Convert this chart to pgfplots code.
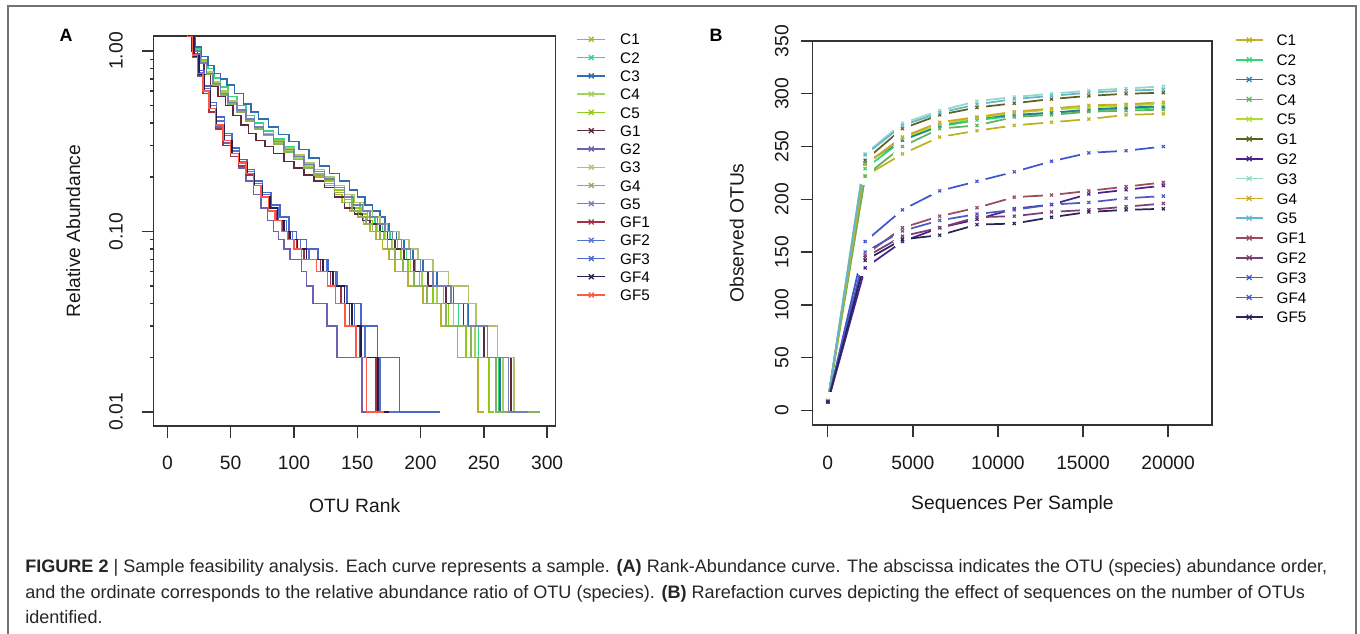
\documentclass[border=0pt]{standalone}
\usepackage{fontspec}
\setmainfont{Liberation Sans}
\usepackage{pgfplots}
\pgfplotsset{compat=1.18}
% panel A colours
\definecolor{aC1}{HTML}{B5B22A}\definecolor{aC2}{HTML}{30D880}\definecolor{aC3}{HTML}{2F6FB0}
\definecolor{aC4}{HTML}{A0D45A}\definecolor{aC5}{HTML}{8ECB14}\definecolor{aG1}{HTML}{5B2B3C}
\definecolor{aG2}{HTML}{6E62B0}\definecolor{aG3}{HTML}{B2C26A}\definecolor{aG4}{HTML}{8DB05C}
\definecolor{aG5}{HTML}{7880B2}\definecolor{aGF1}{HTML}{A0334A}\definecolor{aGF2}{HTML}{5273D0}
\definecolor{aGF3}{HTML}{4A66C8}\definecolor{aGF4}{HTML}{22204E}\definecolor{aGF5}{HTML}{FF5A45}
% panel B colours
\definecolor{bC1}{HTML}{BDB21E}\definecolor{bC2}{HTML}{2ED870}\definecolor{bC3}{HTML}{2479A3}
\definecolor{bC4}{HTML}{62B062}\definecolor{bC5}{HTML}{B0DC2A}\definecolor{bG1}{HTML}{5F5F22}
\definecolor{bG2}{HTML}{4B218C}\definecolor{bG3}{HTML}{94D8C8}\definecolor{bG4}{HTML}{CCA82A}
\definecolor{bG5}{HTML}{62B8C8}\definecolor{bGF1}{HTML}{9A4B5E}\definecolor{bGF2}{HTML}{7A3F72}
\definecolor{bGF3}{HTML}{4056D0}\definecolor{bGF4}{HTML}{4A5ACA}\definecolor{bGF5}{HTML}{2A2458}

% rarefaction data: x = sequences per sample, y = observed OTUs
\pgfplotstableread{
x y
10 9
2200 222
4390 243
6580 259
8770 265
10960 270
13150 273
15340 276
17530 280
19720 281
}\tCi
\pgfplotstableread{
x y
10 9
2200 229
4390 256
6580 269
8770 275
10960 279
13150 282
15340 284
17530 286
19720 287
}\tCii
\pgfplotstableread{
x y
10 9
2200 234
4390 256
6580 270
8770 277
10960 280
13150 282
15340 285
17530 287
19720 288
}\tCiii
\pgfplotstableread{
x y
10 9
2200 222
4390 250
6580 267
8770 270
10960 278
13150 280
15340 283
17530 284
19720 285
}\tCiv
\pgfplotstableread{
x y
10 9
2200 233
4390 258
6580 271
8770 277
10960 282
13150 285
15340 287
17530 289
19720 290
}\tCv
\pgfplotstableread{
x y
10 9
2200 237
4390 267
6580 280
8770 287
10960 291
13150 295
15340 298
17530 300
19720 301
}\tGi
\pgfplotstableread{
x y
10 8
2200 135
4390 160
6580 173
8770 181
10960 191
13150 195
15340 205
17530 209
19720 213
}\tGii
\pgfplotstableread{
x y
10 9
2200 243
4390 272
6580 284
8770 293
10960 297
13150 300
15340 303
17530 305
19720 307
}\tGiii
\pgfplotstableread{
x y
10 9
2200 233
4390 259
6580 273
8770 278
10960 283
13150 286
15340 289
17530 290
19720 292
}\tGiv
\pgfplotstableread{
x y
10 9
2200 242
4390 270
6580 282
8770 290
10960 295
13150 298
15340 301
17530 303
19720 304
}\tGv
\pgfplotstableread{
x y
10 8
2200 147
4390 173
6580 184
8770 192
10960 202
13150 204
15340 208
17530 212
19720 216
}\tFi
\pgfplotstableread{
x y
10 8
2200 145
4390 165
6580 173
8770 183
10960 184
13150 188
15340 190
17530 193
19720 196
}\tFii
\pgfplotstableread{
x y
10 8
2200 160
4390 190
6580 208
8770 217
10960 226
13150 236
15340 244
17530 246
19720 250
}\tFiii
\pgfplotstableread{
x y
10 8
2200 150
4390 170
6580 180
8770 186
10960 190
13150 195
15340 197
17530 201
19720 203
}\tFiv
\pgfplotstableread{
x y
10 8
2200 142
4390 162
6580 166
8770 176
10960 177
13150 183
15340 188
17530 190
19720 191
}\tFv

\pgfplotsset{
  rbase/.style={
    scale only axis, anchor=south west, clip=true,
    axis line style={line width=1.1bp, black!80},
    tick style={line width=1.1bp, black!80},
    tick align=outside, major tick length=9bp, tick pos=left,
    tick label style={font=\fontsize{14.5}{17}\selectfont, black!90},
    label style={font=\fontsize{14.5}{17}\selectfont, black!90},
    /pgf/number format/assume math mode=true,
    xticklabel style={anchor=north, inner sep=0pt},
    yticklabel style={rotate=90, anchor=south, inner sep=0pt},
    legend cell align=left,
  },
  curveA/.style={#1, const plot mark left, line width=1.1bp},
  lineB/.style={#1, sharp plot, mark=none, line width=1.3bp, forget plot},
  discB/.style={white, only marks, mark=*, mark size=6.4bp, mark options={draw=white, fill=white, line width=0pt}, forget plot},
  markB/.style={#1, only marks, mark=x, mark size=1.6bp, mark options={line width=0.9bp}},
}

\begin{document}
\begin{tikzpicture}[x=0.75bp,y=0.75bp]
\useasboundingbox (0,0) rectangle (1360,633);
\draw[black!55, line width=1.3bp] (8,-5) -- (8,627) -- (1356,627) -- (1356,-5);
\node[font=\bfseries\fontsize{13.5}{14}\selectfont] at (66,598) {A};
\node[font=\bfseries\fontsize{13.5}{14}\selectfont] at (716,598) {B};

% ---------------- Panel A ----------------
\begin{axis}[rbase, at={(115.275bp,155.25bp)}, width=301.5bp, height=292.5bp,
  xmin=-10.8, xmax=306.8, ymode=log, ymin=0.008362, ymax=1.211,
  xtick={0,50,100,150,200,250,300},
  ytick={0.01,0.1,1}, yticklabels={0.01,0.10,1.00},
  xticklabel shift=13.5bp, yticklabel shift=14bp,
  xlabel={OTU Rank}, ylabel={Relative Abundance},
  xlabel style={at={(axis description cs:0.5,-0.205)}, anchor=center},
  ylabel style={at={(axis description cs:-0.2,0.5)}, anchor=center},
  legend style={at={(axis description cs:1.052,1.006)}, anchor=north west, draw=none, fill=none,
    inner sep=0pt, outer sep=0pt, font=\fontsize{11.5}{12}\selectfont, row sep=5.2bp, column sep=10.7bp,
    nodes={inner sep=0pt, text height=8.5bp, text depth=0pt}},
  legend image code/.code={\draw[mark repeat=2, mark phase=2, #1, sharp plot, mark=x, mark size=2.6bp, line width=1bp] plot coordinates {(0bp,0bp) (10.5bp,0bp) (21bp,0bp)};},
]
\addplot[curveA=aC1] coordinates {(10,1.7) (16,1.2) (21,1.0) (26,0.86) (31,0.75) (36,0.66) (42,0.58) (48,0.52) (55,0.47) (62,0.42) (69,0.38) (76,0.345) (84,0.31) (92,0.28) (100,0.25) (108,0.225) (116,0.2) (124,0.18) (132,0.16) (138,0.145) (144,0.13) (150,0.12) (155,0.11) (160,0.10) (165,0.09) (170,0.08) (175,0.07) (180,0.06) (190,0.05) (202,0.04) (216,0.03) (229,0.02) (245.5,0.01) (250,0.01)};
\addlegendentry{C1}
\addplot[curveA=aC2] coordinates {(10,1.8) (17,1.2) (22,1.03) (27,0.9) (32,0.8) (37,0.71) (42,0.63) (48,0.56) (55,0.5) (62,0.44) (69,0.4) (76,0.36) (84,0.325) (92,0.295) (100,0.265) (108,0.24) (116,0.215) (124,0.195) (132,0.175) (140,0.16) (146,0.145) (152,0.13) (158,0.12) (164,0.11) (170,0.10) (176,0.09) (182,0.08) (189,0.07) (196,0.06) (206,0.05) (218,0.04) (230,0.03) (246,0.02) (261.4,0.01) (265,0.01)};
\addlegendentry{C2}
\addplot[curveA=aC3] coordinates {(10,1.8) (17,1.2) (22,1.05) (27,0.93) (32,0.83) (37,0.75) (42,0.70) (47,0.65) (53,0.58) (60,0.51) (66,0.46) (72,0.42) (80,0.38) (88,0.345) (96,0.315) (104,0.285) (112,0.255) (120,0.23) (128,0.21) (136,0.19) (144,0.17) (150,0.155) (156,0.14) (162,0.13) (168,0.12) (172,0.11) (175,0.10) (181,0.09) (187,0.08) (194,0.07) (202,0.06) (213,0.05) (226,0.04) (238,0.03) (250,0.02) (262.7,0.01) (268,0.01)};
\addlegendentry{C3}
\addplot[curveA=aC4] coordinates {(10,1.7) (16,1.2) (21,1.0) (26,0.87) (31,0.76) (36,0.67) (42,0.59) (48,0.52) (55,0.47) (62,0.42) (69,0.375) (76,0.34) (84,0.31) (92,0.28) (100,0.255) (108,0.23) (116,0.205) (124,0.185) (132,0.165) (140,0.15) (147,0.135) (153,0.12) (160,0.11) (166,0.10) (172,0.09) (178,0.08) (185,0.07) (192,0.06) (201,0.05) (213,0.04) (226,0.03) (243,0.02) (265,0.01) (270,0.01)};
\addlegendentry{C4}
\addplot[curveA=aC5] coordinates {(10,1.7) (16,1.2) (21,1.02) (26,0.88) (31,0.77) (36,0.68) (42,0.6) (48,0.53) (55,0.47) (62,0.42) (69,0.38) (76,0.345) (84,0.315) (92,0.285) (100,0.26) (108,0.235) (116,0.21) (124,0.19) (132,0.17) (140,0.15) (146,0.135) (152,0.125) (158,0.115) (162,0.11) (165,0.10) (171,0.09) (177,0.08) (184,0.07) (190,0.06) (199,0.05) (210,0.04) (222,0.03) (236,0.02) (254.2,0.01) (258,0.01)};
\addlegendentry{C5}
\addplot[curveA=aG1] coordinates {(10,1.6) (15,1.2) (19,1.0) (24,0.85) (29,0.74) (34,0.64) (40,0.56) (46,0.50) (52,0.44) (58,0.39) (64,0.35) (70,0.32) (77,0.295) (84,0.27) (92,0.245) (100,0.225) (108,0.205) (116,0.19) (124,0.175) (132,0.155) (140,0.135) (148,0.125) (154,0.115) (160,0.11) (168,0.10) (174,0.09) (180,0.08) (187,0.07) (195,0.06) (206,0.05) (220,0.04) (234,0.03) (250,0.02) (271.4,0.01) (276,0.01)};
\addlegendentry{G1}
\addplot[curveA=aG2] coordinates {(10,1.7) (16,1.2) (20,0.92) (24,0.72) (28,0.58) (33,0.46) (38,0.38) (44,0.31) (50,0.26) (56,0.225) (62,0.19) (68,0.16) (74,0.135) (79,0.115) (84,0.10) (88,0.09) (92,0.08) (97,0.07) (106,0.06) (110,0.05) (115,0.04) (126,0.03) (134,0.02) (153.7,0.01) (158,0.01)};
\addlegendentry{G2}
\addplot[curveA=aG3] coordinates {(10,1.7) (16,1.2) (21,1.0) (26,0.87) (31,0.77) (36,0.68) (42,0.6) (48,0.53) (55,0.47) (62,0.42) (69,0.38) (76,0.35) (84,0.32) (92,0.29) (100,0.265) (108,0.24) (116,0.22) (124,0.2) (132,0.18) (140,0.16) (148,0.145) (155,0.13) (162,0.12) (168,0.11) (174,0.10) (183,0.09) (191,0.08) (198,0.07) (210,0.06) (222,0.05) (238,0.04) (244,0.03) (261,0.02) (274,0.01) (290,0.01)};
\addlegendentry{G3}
\addplot[curveA=aG4] coordinates {(10,1.6) (16,1.2) (21,1.0) (26,0.85) (31,0.74) (36,0.65) (42,0.57) (48,0.51) (55,0.46) (62,0.41) (69,0.37) (76,0.34) (84,0.305) (92,0.275) (100,0.25) (108,0.225) (116,0.205) (124,0.185) (132,0.165) (140,0.145) (146,0.13) (151,0.12) (157,0.11) (162,0.10) (168,0.09) (174,0.08) (180,0.07) (186,0.06) (195,0.05) (205,0.04) (220,0.03) (240,0.02) (259.5,0.01) (294,0.01)};
\addlegendentry{G4}
\addplot[curveA=aG5] coordinates {(10,1.7) (16,1.2) (21,1.0) (26,0.86) (31,0.75) (36,0.66) (42,0.58) (48,0.52) (55,0.47) (62,0.42) (69,0.38) (76,0.345) (84,0.315) (92,0.285) (100,0.26) (108,0.235) (116,0.215) (124,0.195) (132,0.175) (140,0.155) (147,0.14) (154,0.13) (160,0.12) (166,0.11) (172,0.10) (178,0.09) (185,0.08) (192,0.07) (200,0.06) (210,0.05) (224,0.04) (237,0.03) (253,0.02) (269.3,0.01) (285,0.01)};
\addlegendentry{G5}
\addplot[curveA=aGF1] coordinates {(10,1.8) (16,1.2) (20,0.93) (24,0.73) (28,0.58) (33,0.46) (38,0.37) (44,0.3) (50,0.26) (56,0.23) (62,0.205) (68,0.18) (74,0.155) (80,0.13) (86,0.115) (91,0.10) (96,0.09) (102,0.08) (108,0.07) (121,0.06) (129,0.05) (137,0.04) (144,0.03) (152,0.02) (164.8,0.01) (172,0.01)};
\addlegendentry{GF1}
\addplot[curveA=aGF2] coordinates {(10,1.8) (17,1.2) (21,0.95) (25,0.76) (29,0.62) (34,0.5) (39,0.41) (45,0.34) (51,0.28) (57,0.245) (63,0.215) (69,0.185) (75,0.16) (82,0.135) (88,0.115) (94,0.10) (99,0.09) (105,0.08) (112,0.07) (126,0.06) (134,0.05) (142,0.04) (148,0.03) (156,0.02) (168,0.01) (185,0.01)};
\addlegendentry{GF2}
\addplot[curveA=aGF3] coordinates {(10,1.8) (17,1.2) (21,0.96) (25,0.78) (29,0.64) (34,0.52) (39,0.43) (45,0.35) (51,0.29) (57,0.25) (63,0.22) (69,0.19) (75,0.165) (82,0.14) (89,0.12) (96,0.10) (102,0.09) (110,0.08) (119,0.07) (127,0.06) (133,0.05) (142,0.04) (153,0.03) (166,0.02) (183.5,0.01) (215,0.01)};
\addlegendentry{GF3}
\addplot[curveA=aGF4] coordinates {(10,1.8) (17,1.2) (21,0.94) (25,0.74) (29,0.6) (34,0.48) (39,0.39) (45,0.32) (51,0.27) (57,0.24) (63,0.21) (69,0.18) (75,0.155) (81,0.135) (87,0.115) (92,0.10) (97,0.09) (103,0.08) (110,0.07) (123,0.06) (131,0.05) (140,0.04) (146,0.03) (153,0.02) (166.5,0.01) (175,0.01)};
\addlegendentry{GF4}
\addplot[curveA=aGF5] coordinates {(10,1.8) (16,1.2) (20,0.95) (24,0.75) (28,0.6) (33,0.48) (38,0.39) (44,0.32) (50,0.27) (56,0.24) (62,0.21) (68,0.18) (74,0.155) (80,0.13) (85,0.115) (90,0.10) (95,0.09) (100,0.08) (106,0.07) (118,0.06) (126.5,0.05) (133,0.04) (140.5,0.03) (149,0.02) (157.4,0.01) (171,0.01)};
\addlegendentry{GF5}
\end{axis}

% ---------------- Panel B ----------------
\begin{axis}[rbase, at={(609.525bp,156bp)}, width=299.5bp, height=288bp,
  xmin=-881, xmax=22580, ymin=-13.9, ymax=350,
  xtick={0,5000,10000,15000,20000}, ytick={0,50,...,350},
  scaled x ticks=false,
  xticklabel style={/pgf/number format/set thousands separator={}},
  xticklabel shift=14bp, yticklabel shift=9bp,
  xlabel={Sequences Per Sample}, ylabel={Observed OTUs},
  xlabel style={at={(axis description cs:0.5,-0.208)}, anchor=center},
  ylabel style={at={(axis description cs:-0.19,0.5)}, anchor=center},
  legend style={at={(axis description cs:1.0576,1.0174)}, anchor=north west, draw=none, fill=none,
    inner sep=0pt, outer sep=0pt, font=\fontsize{11.5}{12}\selectfont, row sep=6.35bp, column sep=10bp,
    nodes={inner sep=0pt, text height=8.5bp, text depth=0pt}},
  legend image code/.code={\draw[mark repeat=2, mark phase=2, #1, sharp plot, mark=x, mark size=2.6bp, line width=1.2bp] plot coordinates {(0bp,0bp) (10bp,0bp) (20bp,0bp)};},
]
% lines
\addplot[lineB=bC1] table {\tCi};
\addplot[lineB=bC2] table {\tCii};
\addplot[lineB=bC3] table {\tCiii};
\addplot[lineB=bC4] table {\tCiv};
\addplot[lineB=bC5] table {\tCv};
\addplot[lineB=bG1] table {\tGi};
\addplot[lineB=bG2] table {\tGii};
\addplot[lineB=bG3] table {\tGiii};
\addplot[lineB=bG4] table {\tGiv};
\addplot[lineB=bG5] table {\tGv};
\addplot[lineB=bGF1] table {\tFi};
\addplot[lineB=bGF2] table {\tFii};
\addplot[lineB=bGF3] table {\tFiii};
\addplot[lineB=bGF4] table {\tFiv};
\addplot[lineB=bGF5] table {\tFv};
% gaps around the points (type "b")
\addplot[discB] table {\tCi};
\addplot[discB] table {\tCii};
\addplot[discB] table {\tCiii};
\addplot[discB] table {\tCiv};
\addplot[discB] table {\tCv};
\addplot[discB] table {\tGi};
\addplot[discB] table {\tGii};
\addplot[discB] table {\tGiii};
\addplot[discB] table {\tGiv};
\addplot[discB] table {\tGv};
\addplot[discB] table {\tFi};
\addplot[discB] table {\tFii};
\addplot[discB] table {\tFiii};
\addplot[discB] table {\tFiv};
\addplot[discB] table {\tFv};
% points
\addplot[markB=bC1] table {\tCi}; \addlegendentry{C1}
\addplot[markB=bC2] table {\tCii}; \addlegendentry{C2}
\addplot[markB=bC3] table {\tCiii}; \addlegendentry{C3}
\addplot[markB=bC4] table {\tCiv}; \addlegendentry{C4}
\addplot[markB=bC5] table {\tCv}; \addlegendentry{C5}
\addplot[markB=bG1] table {\tGi}; \addlegendentry{G1}
\addplot[markB=bG2] table {\tGii}; \addlegendentry{G2}
\addplot[markB=bG3] table {\tGiii}; \addlegendentry{G3}
\addplot[markB=bG4] table {\tGiv}; \addlegendentry{G4}
\addplot[markB=bG5] table {\tGv}; \addlegendentry{G5}
\addplot[markB=bGF1] table {\tFi}; \addlegendentry{GF1}
\addplot[markB=bGF2] table {\tFii}; \addlegendentry{GF2}
\addplot[markB=bGF3] table {\tFiii}; \addlegendentry{GF3}
\addplot[markB=bGF4] table {\tFiv}; \addlegendentry{GF4}
\addplot[markB=bGF5] table {\tFv}; \addlegendentry{GF5}
\end{axis}

% ---------------- Caption ----------------
\begin{scope}[every node/.style={anchor=base west, inner sep=0pt, text=black!85, font=\fontsize{13.6}{15}\selectfont}]
\node at (25,61) {\textbf{FIGURE 2} | Sample feasibility analysis. Each curve represents a sample. \textbf{(A)} Rank-Abundance curve. The abscissa indicates the OTU (species) abundance order,};
\node at (25,35) {and the ordinate corresponds to the relative abundance ratio of OTU (species). \textbf{(B)} Rarefaction curves depicting the effect of sequences on the number of OTUs};
\node at (25,10) {identified.};
\end{scope}
\end{tikzpicture}
\end{document}
